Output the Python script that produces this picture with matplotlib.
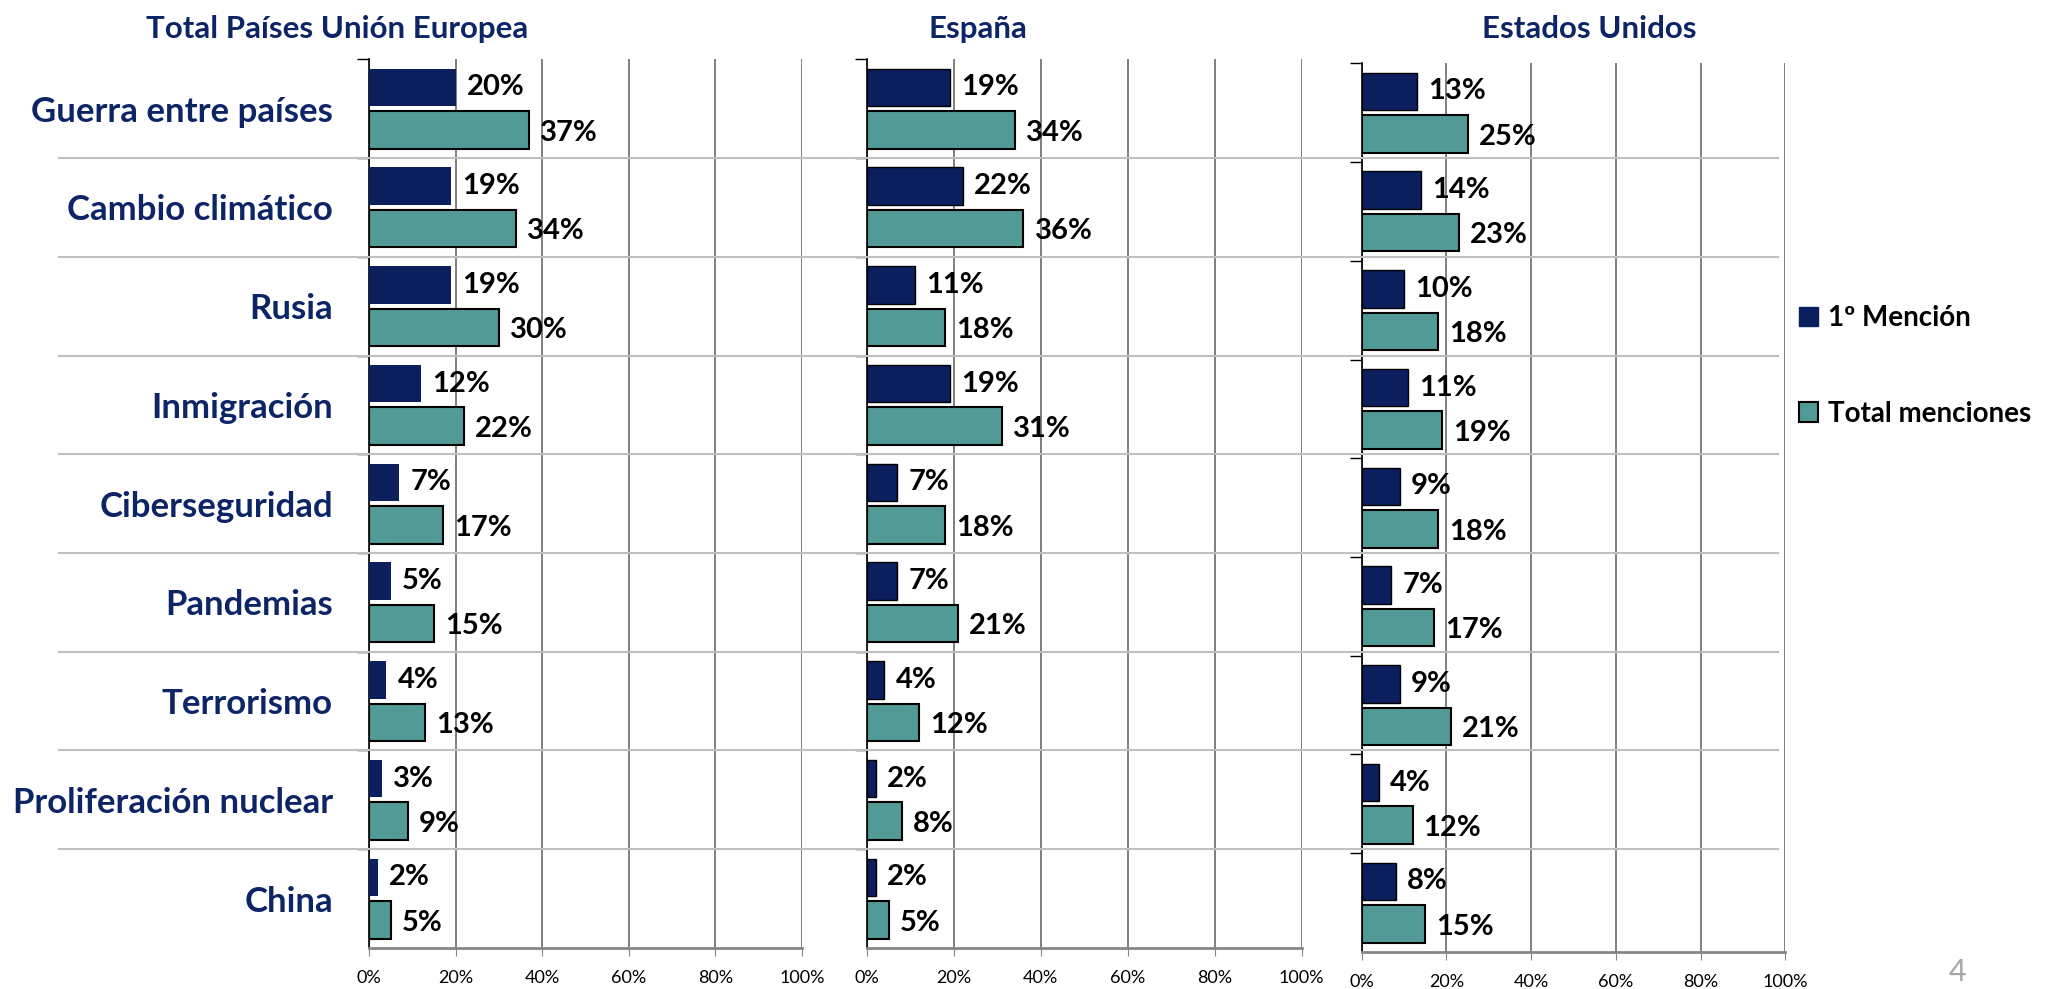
import matplotlib
matplotlib.use("Agg")
import matplotlib.pyplot as plt
from matplotlib.patches import Patch
from matplotlib.lines import Line2D

plt.rcParams["font.family"] = ["Lato", "DejaVu Sans"]

categories = [
    "Guerra entre países",
    "Cambio climático",
    "Rusia",
    "Inmigración",
    "Ciberseguridad",
    "Pandemias",
    "Terrorismo",
    "Proliferación nuclear",
    "China",
]
titles = ["Total Países Unión Europea", "España", "Estados Unidos"]
series_names = ["1º Mención", "Total menciones"]

ue_first = [20, 19, 19, 12, 7, 5, 4, 3, 2]
ue_total = [37, 34, 30, 22, 17, 15, 13, 9, 5]
es_first = [19, 22, 11, 19, 7, 7, 4, 2, 2]
es_total = [34, 36, 18, 31, 18, 21, 12, 8, 5]
us_first = [13, 14, 10, 11, 9, 7, 9, 4, 8]
us_total = [25, 23, 18, 19, 18, 17, 21, 12, 15]

xticks = [0, 20, 40, 60, 80, 100]
xtick_labels = [f"{t}%" for t in xticks]

NAVY = "#0B1F5E"
TEAL = "#519A96"
TITLE_COLOR = "#0D2466"

# axes boxes in figure fraction: left, bottom, width, height
boxes = [
    (0.1799, 0.0415, 0.2111, 0.8985),
    (0.4227, 0.0415, 0.2119, 0.8985),
    (0.6639, 0.0375, 0.2066, 0.8985),
]
title_x = [0.1646, 0.477, 0.775]
panel_data = [(ue_first, ue_total), (es_first, es_total), (us_first, us_total)]

fig = plt.figure(figsize=(20.51, 9.89), dpi=100)
fig.patch.set_facecolor("white")

axes = []
n = len(categories)
pos = list(range(n))
for k, (box, (first, total)) in enumerate(zip(boxes, panel_data)):
    ax = fig.add_axes(box)
    axes.append(ax)
    navy_edge = "none" if k == 0 else "black"
    ax.barh([p - 0.215 for p in pos], first, height=0.38, color=NAVY,
            edgecolor=navy_edge, linewidth=1.0, zorder=3)
    ax.barh([p + 0.215 for p in pos], total, height=0.38, color=TEAL,
            edgecolor="black", linewidth=1.5, zorder=3)
    for p, v in zip(pos, first):
        ax.annotate(f"{v}%", xy=(v, p - 0.215), xytext=(8, 0), textcoords="offset points",
                    va="center", ha="left", fontsize=21, fontweight="bold", zorder=4)
    for p, v in zip(pos, total):
        ax.annotate(f"{v}%", xy=(v, p + 0.215), xytext=(8, -2), textcoords="offset points",
                    va="center", ha="left", fontsize=21, fontweight="bold", zorder=4)

    ax.set_xlim(0, 100)
    ax.set_ylim(n - 0.5, -0.5)
    ax.set_xticks(xticks)
    ax.set_xticklabels(xtick_labels)
    ax.tick_params(axis="x", length=6, color="#868686", labelsize=13, pad=10)
    ax.set_axisbelow(True)
    ax.xaxis.grid(True, color="#6a6a6a", linewidth=1.2)

    ax.set_yticks(pos)
    ax.set_yticks([p - 0.5 for p in pos], minor=True)
    ax.tick_params(axis="y", which="major", length=0, pad=26)
    ax.tick_params(axis="y", which="minor", length=9, color="black", width=1)
    if k == 0:
        ax.set_yticklabels(categories, fontsize=25, fontweight="bold", color=TITLE_COLOR)
    else:
        ax.set_yticklabels([])

    for side in ["top", "right"]:
        ax.spines[side].set_visible(False)
    ax.spines["left"].set_color("black")
    ax.spines["left"].set_linewidth(1.2)
    ax.spines["bottom"].set_color("#868686")
    ax.spines["bottom"].set_linewidth(2)

    fig.text(title_x[k], 0.971, titles[k], ha="center", va="center",
             fontsize=22.5, fontweight="bold", color=TITLE_COLOR)

# category separators running across the whole chart
inv = fig.transFigure.inverted()
for b in [p + 0.5 for p in pos[:-1]]:
    y_disp = axes[0].transData.transform((0, b))[1]
    y_fig = inv.transform((0, y_disp))[1]
    fig.add_artist(Line2D([0.0288, 0.867], [y_fig, y_fig], transform=fig.transFigure,
                          color="#BFBFBF", linewidth=1.5, zorder=1))

handles = [Patch(facecolor=NAVY, edgecolor=NAVY), Patch(facecolor=TEAL, edgecolor="black", linewidth=1.5)]
fig.legend(handles=handles, labels=series_names, loc="center left", bbox_to_anchor=(0.869, 0.63),
           frameon=False, prop={"weight": "bold", "size": 20}, handlelength=0.7, handleheight=0.7,
           handletextpad=0.35, labelspacing=2.5, borderaxespad=0.2)

fig.text(0.9545, 0.003, "4", ha="center", va="bottom", fontsize=22, color="#A6A6A6")

fig.savefig("out.png", dpi=100)
